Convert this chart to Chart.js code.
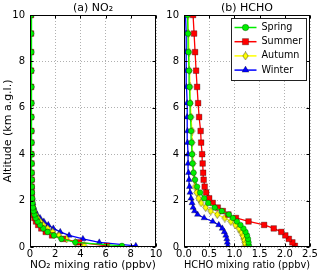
<!DOCTYPE html>
<html>
<head>
<meta charset="utf-8">
<script src="https://cdn.jsdelivr.net/npm/chart.js@4.4.0/dist/chart.umd.min.js"></script>
<style>
html, body { margin: 0; padding: 0; background: #fff; }
#wrap { position: relative; width: 320px; height: 276px; overflow: hidden; }
.panel { position: absolute; top: 0; height: 276px; }
#p1 { left: 0; width: 170px; }
#p2 { left: 160px; width: 160px; }
</style>
</head>
<body>
<div id="wrap">
  <div class="panel" id="p1"><canvas id="no2"></canvas></div>
  <div class="panel" id="p2"><canvas id="hcho"></canvas></div>
</div>
<script>
// altitude levels (km a.g.l.), shared by every profile
const altitude = [0.05, 0.2, 0.35, 0.5, 0.65, 0.8, 0.95, 1.1, 1.25, 1.4, 1.55, 1.7, 1.9, 2.1, 2.35,
                  2.6, 2.9, 3.2, 3.6, 4.0, 4.5, 5.0, 5.6, 6.2, 6.9, 7.6, 8.4, 9.2, 10.0];

const seasons = ["Spring", "Summer", "Autumn", "Winter"];

// NO2 mixing ratio (ppbv)
const no2Spring = [7.3, 3.6, 2.5, 1.9, 1.4, 1.05, 0.8, 0.6, 0.45, 0.35, 0.28, 0.23, 0.19, 0.17, 0.16,
                   0.15, 0.15, 0.14, 0.14, 0.13, 0.13, 0.12, 0.12, 0.12, 0.11, 0.11, 0.11, 0.10, 0.10];
const no2Summer = [6.1, 3.9, 2.6, 1.75, 1.25, 0.9, 0.65, 0.48, 0.35, 0.27, 0.22, 0.19, 0.16, 0.14, 0.13,
                   0.12, 0.12, 0.11, 0.11, 0.10, 0.10, 0.10, 0.09, 0.09, 0.09, 0.08, 0.08, 0.08, 0.08];
const no2Autumn = [4.3, 3.6, 2.9, 2.3, 1.8, 1.4, 1.05, 0.8, 0.6, 0.45, 0.35, 0.27, 0.21, 0.17, 0.15,
                   0.13, 0.12, 0.11, 0.10, 0.10, 0.09, 0.09, 0.09, 0.08, 0.08, 0.08, 0.07, 0.07, 0.07];
const no2Winter = [8.4, 5.5, 4.2, 3.1, 2.4, 1.85, 1.45, 1.1, 0.8, 0.55, 0.4, 0.3, 0.22, 0.18, 0.15,
                   0.13, 0.12, 0.11, 0.10, 0.09, 0.08, 0.07, 0.06, 0.05, 0.05, 0.04, 0.04, 0.03, 0.03];

// HCHO mixing ratio (ppbv)
const hchoSpring = [1.29, 1.28, 1.27, 1.25, 1.22, 1.18, 1.12, 1.05, 0.97, 0.89, 0.75, 0.61, 0.48, 0.40, 0.32,
                    0.26, 0.22, 0.19, 0.17, 0.16, 0.15, 0.14, 0.13, 0.12, 0.11, 0.10, 0.09, 0.08, 0.07];
const hchoSummer = [2.2, 2.15, 2.08, 2.01, 1.93, 1.78, 1.59, 1.28, 1.03, 0.88, 0.77, 0.67, 0.57, 0.50, 0.44,
                    0.41, 0.39, 0.38, 0.37, 0.36, 0.34, 0.33, 0.30, 0.28, 0.26, 0.24, 0.22, 0.20, 0.18];
const hchoAutumn = [1.21, 1.20, 1.18, 1.16, 1.13, 1.09, 1.02, 0.93, 0.81, 0.66, 0.53, 0.43, 0.34, 0.29, 0.25,
                    0.22, 0.21, 0.19, 0.18, 0.17, 0.16, 0.16, 0.14, 0.13, 0.12, 0.11, 0.10, 0.09, 0.08];
const hchoWinter = [0.87, 0.86, 0.85, 0.83, 0.80, 0.76, 0.69, 0.57, 0.40, 0.27, 0.21, 0.18, 0.16, 0.14, 0.12,
                    0.11, 0.10, 0.09, 0.08, 0.08, 0.07, 0.07, 0.06, 0.06, 0.05, 0.05, 0.04, 0.04, 0.03];

const altTicks = [0, 2, 4, 6, 8, 10];

const FONT = "'DejaVu Sans', sans-serif";

// matplotlib style thin diamond
function thinDiamond(color) {
  const c = document.createElement("canvas");
  c.width = 7; c.height = 9;
  const g = c.getContext("2d");
  g.beginPath();
  g.moveTo(3.5, 0.5); g.lineTo(6.2, 4.5); g.lineTo(3.5, 8.5); g.lineTo(0.8, 4.5);
  g.closePath();
  g.fillStyle = color; g.fill();
  g.lineWidth = 0.6; g.strokeStyle = "rgba(0,0,0,0.7)"; g.stroke();
  return c;
}

const styles = [
  { color: "#00ee00", pointStyle: "circle", radius: 2.8 },
  { color: "#ff0000", pointStyle: "rect", radius: 4 },
  { color: "#ffff00", pointStyle: thinDiamond("#ffff00"), radius: 3.5 },
  { color: "#0000ff", pointStyle: "triangle", radius: 3.6 }
];

function makeSets(series) {
  return series.map((vals, i) => ({
    label: seasons[i],
    data: vals.map((v, k) => ({ x: v, y: altitude[k] })),
    showLine: true,
    borderColor: styles[i].color,
    backgroundColor: styles[i].color,
    borderWidth: 1.3,
    pointStyle: styles[i].pointStyle,
    pointRadius: styles[i].radius,
    pointBackgroundColor: styles[i].color,
    pointBorderColor: "rgba(0,0,0,0.6)",
    pointBorderWidth: 0.5
  }));
}

// box, inner ticks and panel title
const framePlugin = {
  id: "frame",
  afterDatasetsDraw(chart, args, opts) {
    const { ctx, chartArea: a, scales } = chart;
    const L = Math.round(a.left) + 0.5, R = Math.round(a.right) - 0.5;
    const T = Math.round(a.top) + 0.5, B = Math.round(a.bottom) - 0.5;
    ctx.save();
    ctx.strokeStyle = "#000";
    ctx.lineWidth = 1;
    ctx.beginPath();
    scales.x.ticks.forEach(t => {
      const px = Math.round(scales.x.getPixelForValue(t.value)) + 0.5;
      ctx.moveTo(px, B); ctx.lineTo(px, B - 3);
      ctx.moveTo(px, T); ctx.lineTo(px, T + 3);
    });
    scales.y.ticks.forEach(t => {
      const py = Math.round(scales.y.getPixelForValue(t.value)) + 0.5;
      ctx.moveTo(L, py); ctx.lineTo(L + 3, py);
      ctx.moveTo(R, py); ctx.lineTo(R - 3, py);
    });
    ctx.stroke();
    ctx.strokeRect(L, T, R - L, B - T);
    ctx.fillStyle = "#000";
    ctx.font = "11px " + FONT;
    ctx.textAlign = "center";
    ctx.textBaseline = "middle";
    ctx.fillText(opts.title, (a.left + a.right) / 2, 8);
    ctx.restore();
  }
};

const legendPlugin = {
  id: "boxLegend",
  afterDraw(chart, args, opts) {
    if (!opts.show) return;
    const { ctx, chartArea: a } = chart;
    const w = 75, h = 62;
    const x = Math.round(a.right - 4 - w) + 0.5, y = Math.round(a.top + 3) + 0.5;
    ctx.save();
    ctx.fillStyle = "#fff";
    ctx.fillRect(x, y, w, h);
    ctx.strokeStyle = "#222";
    ctx.lineWidth = 1;
    ctx.strokeRect(x, y, w, h);
    chart.data.datasets.forEach((ds, i) => {
      const cy = y + 9 + i * 14.2;
      ctx.strokeStyle = ds.borderColor;
      ctx.lineWidth = 1.5;
      ctx.beginPath();
      ctx.moveTo(x + 3, cy); ctx.lineTo(x + 25, cy);
      ctx.stroke();
      ctx.fillStyle = ds.pointBackgroundColor;
      ctx.strokeStyle = ds.pointBorderColor;
      ctx.lineWidth = ds.pointBorderWidth;
      Chart.helpers.drawPoint(ctx, { pointStyle: ds.pointStyle, radius: ds.pointRadius + 0.4, borderWidth: ds.pointBorderWidth, rotation: 0 }, x + 14, cy);
      ctx.fillStyle = "#000";
      ctx.font = "9.6px " + FONT;
      ctx.textAlign = "left";
      ctx.textBaseline = "middle";
      ctx.fillText(ds.label, x + 30, cy);
    });
    ctx.restore();
  }
};

function panel(id, series, xMax, xStep, xTitle, yTitle, yWidth, padRight, title, legend) {
  return new Chart(document.getElementById(id), {
    type: "scatter",
    data: { datasets: makeSets(series) },
    options: {
      responsive: true,
      maintainAspectRatio: false,
      animation: false,
      devicePixelRatio: 1,
      layout: { padding: { top: 15, right: padRight, bottom: 0, left: 0 } },
      plugins: {
        legend: { display: false },
        tooltip: { enabled: false },
        frame: { title: title },
        boxLegend: { show: legend }
      },
      scales: {
        x: {
          type: "linear", min: 0, max: xMax,
          ticks: {
            stepSize: xStep, color: "#000", padding: 1,
            font: { family: FONT, size: 10 },
            callback: v => xStep < 1 ? v.toFixed(1) : String(v)
          },
          grid: { color: "#b0b0b0", drawTicks: false },
          border: { display: false, dash: [1, 2] },
          title: { display: true, text: xTitle, color: "#000", font: { family: FONT, size: 11 }, padding: { top: 0, bottom: 4 } },
          afterFit: s => { s.height = 29; }
        },
        y: {
          type: "linear", min: 0, max: 10,
          afterBuildTicks: s => { s.ticks = altTicks.map(v => ({ value: v })); },
          ticks: { color: "#000", padding: 5, font: { family: FONT, size: 10 } },
          grid: { color: "#b0b0b0", drawTicks: false },
          border: { display: false, dash: [1, 2] },
          title: { display: !!yTitle, text: yTitle, color: "#000", font: { family: FONT, size: 11 }, padding: { top: 2, bottom: 0 } },
          afterFit: s => { s.width = yWidth; }
        }
      }
    },
    plugins: [framePlugin, legendPlugin]
  });
}

panel("no2", [no2Spring, no2Summer, no2Autumn, no2Winter], 10, 2,
      "NO\u2082 mixing ratio (ppbv)", "Altitude (km a.g.l.)", 30, 14, "(a) NO\u2082", false);
panel("hcho", [hchoSpring, hchoSummer, hchoAutumn, hchoWinter], 2.5, 0.5,
      "HCHO mixing ratio (ppbv)", "", 24, 10, "(b) HCHO", true);
</script>
</body>
</html>
